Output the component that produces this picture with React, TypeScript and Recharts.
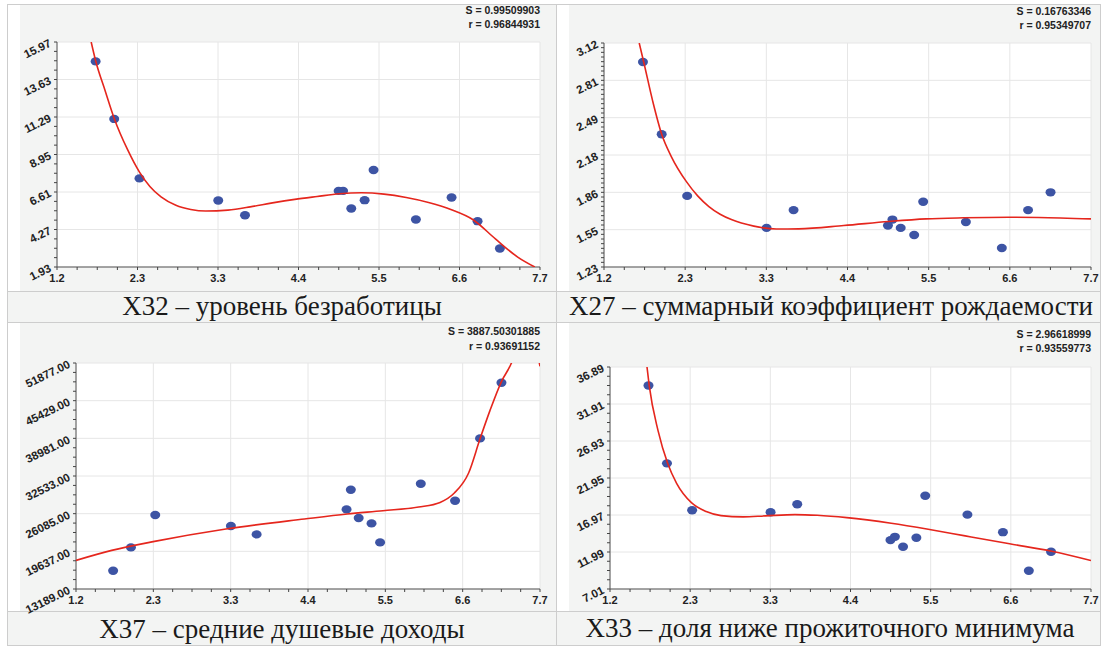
import React from "react";
import { ScatterChart, Scatter, XAxis, YAxis, CartesianGrid } from "recharts";

// regressor values (same for all four panels)
const REGION_X = [1.72, 1.97, 2.31, 3.37, 3.73, 4.99, 5.05, 5.16, 5.34, 5.46, 6.03, 6.51, 6.86, 7.16];
const X_TICK_LABELS = ["1.2", "2.3", "3.3", "4.4", "5.5", "6.6", "7.7"];

// X32 - unemployment
const X32_VALUES = [14.76, 11.17, 7.46, 6.08, 5.16, 6.68, 6.68, 5.58, 6.1, 7.98, 4.89, 6.27, 4.79, 3.08];
const X32_FIT_X = [1.66, 1.72, 1.85, 1.97, 2.15, 2.31, 2.45, 2.6, 2.8, 3.0, 3.2, 3.5, 3.8, 4.1, 4.4, 4.7, 5.0, 5.3, 5.6, 5.9, 6.2, 6.5, 6.8, 7.1, 7.4, 7.63];
const X32_FIT_Y = [15.97, 14.8, 12.9, 11.2, 9.25, 7.85, 6.95, 6.3, 5.78, 5.52, 5.42, 5.48, 5.68, 5.93, 6.15, 6.33, 6.5, 6.56, 6.48, 6.27, 5.96, 5.52, 4.88, 3.68, 2.55, 1.93];
const X32_TICKS = ["1.93", "4.27", "6.61", "8.95", "11.29", "13.63", "15.97"];

// X27 - fertility
const X27_VALUES = [2.96, 2.35, 1.83, 1.56, 1.71, 1.58, 1.63, 1.56, 1.5, 1.78, 1.61, 1.39, 1.71, 1.86];
const X27_FIT_X = [1.67, 1.73, 1.85, 1.97, 2.1, 2.3, 2.45, 2.6, 2.75, 2.9, 3.2, 3.5, 3.8, 4.4, 5.0, 5.5, 6.0, 6.6, 7.0, 7.7];
const X27_FIT_Y = [3.12, 2.96, 2.63, 2.35, 2.16, 1.95, 1.83, 1.74, 1.675, 1.63, 1.575, 1.55, 1.552, 1.58, 1.614, 1.636, 1.645, 1.65, 1.648, 1.636];
const X27_TICKS = ["1.23", "1.55", "1.86", "2.18", "2.49", "2.81", "3.12"];

// X37 - average income per capita
const X37_VALUES = [16322, 20311, 25858, 23975, 22537, 26817, 30189, 25344, 24420, 21167, 31216, 28306, 38972, 48508];
const X37_FIT_X = [1.2, 1.7, 2.3, 3.3, 4.4, 5.0, 5.5, 6.0, 6.3, 6.5, 6.7, 6.86, 7.0, 7.16, 7.3, 7.5, 7.7];
const X37_FIT_Y = [18085, 19797, 21338, 23461, 25173, 26029, 26594, 27227, 28015, 29624, 33049, 38900, 43765, 48700, 51877, 60000, 51300];
const X37_TICKS = ["13189.00", "19637.00", "26085.00", "32533.00", "38981.00", "45429.00", "51877.00"];

// X33 - share below subsistence minimum
const X33_VALUES = [34.39, 23.92, 17.61, 17.35, 18.42, 13.59, 14.03, 12.69, 13.9, 19.57, 17.02, 14.66, 9.47, 12.02];
const X33_FIT_X = [1.7, 1.73, 1.85, 1.98, 2.1, 2.3, 2.5, 2.7, 3.0, 3.3, 3.7, 4.0, 4.4, 5.0, 5.5, 6.0, 6.6, 7.17, 7.7];
const X33_FIT_Y = [36.89, 34.39, 28.3, 23.9, 21.24, 18.64, 17.43, 16.89, 16.72, 16.85, 17.02, 16.93, 16.62, 15.87, 15.06, 14.16, 13.09, 12.1, 10.85];
const X33_TICKS = ["7.01", "11.99", "16.97", "21.95", "26.93", "31.91", "36.89"];

const X_MIN = 1.2;
const X_MAX = 7.7;
const X_SUB = 4;
const AXIS_FONT = "'Liberation Sans', Arial, sans-serif";
const DOT_COLOR = "#3d54a4";
const FIT_COLOR = "#e5261d";

type Box = { x: number; y: number; w: number; h: number };
type Plot = { l: number; r: number; t: number; b: number };

interface PanelProps {
  values: number[];
  fitX: number[];
  fitY: number[];
  yLabels: string[];
  ySub: number;
  box: Box;
  plot: Plot;
}

const Dot = (p: any) => <ellipse cx={p.cx} cy={p.cy} rx={5} ry={4.2} fill={DOT_COLOR} />;
const NoDot = () => <g />;

function Panel({ values, fitX, fitY, yLabels, ySub, box, plot }: PanelProps) {
  const yMin = Number(yLabels[0]);
  const yMax = Number(yLabels[yLabels.length - 1]);
  const points = REGION_X.map((x, i) => ({ x, y: values[i] }));
  const fit = fitX.map((x, i) => ({ x, y: fitY[i] }));

  const xStep = (X_MAX - X_MIN) / 6;
  const xTicks = Array.from({ length: 6 * X_SUB + 1 }, (_, i) => X_MIN + (i * xStep) / X_SUB);
  const xMajors = X_TICK_LABELS.map((_, i) => X_MIN + i * xStep);
  const yStep = (yMax - yMin) / 6;
  const yTicks = Array.from({ length: 6 * ySub + 1 }, (_, i) => yMin + (i * yStep) / ySub);
  const yMajors = yLabels.map((_, i) => yMin + i * yStep);

  const XTick = (props: any) => {
    const { x, y, payload } = props;
    const i = Math.round((payload.value - X_MIN) / (xStep / X_SUB));
    const major = i % X_SUB === 0;
    return (
      <g>
        <line x1={x} x2={x} y1={y} y2={y + 3} stroke="#444" />
        {major && (
          <text x={x} y={y + 15} textAnchor="middle" fontSize={11} fontWeight="bold" fill="#222" fontFamily={AXIS_FONT}>
            {X_TICK_LABELS[i / X_SUB]}
          </text>
        )}
      </g>
    );
  };

  const YTick = (props: any) => {
    const { x, y, payload } = props;
    const i = Math.round((payload.value - yMin) / (yStep / ySub));
    const major = i % ySub === 0;
    const tx = x - 5;
    const ty = y + 4;
    return (
      <g>
        <line x1={x - 3} x2={x} y1={y} y2={y} stroke="#444" />
        {major && (
          <text x={tx} y={ty} textAnchor="end" fontSize={11.5} fontWeight="bold" fill="#222" fontFamily={AXIS_FONT}
            transform={`rotate(-26 ${tx} ${ty})`}>
            {yLabels[i / ySub]}
          </text>
        )}
      </g>
    );
  };

  const margin = {
    left: plot.l - box.x - 30,
    right: box.x + box.w - plot.r,
    top: plot.t - box.y,
    bottom: box.y + box.h - plot.b - 20,
  };

  return (
    <div style={{ position: "absolute", left: box.x, top: box.y }}>
      <ScatterChart width={box.w} height={box.h} margin={margin}>
        <CartesianGrid fill="#fff" stroke="#e6e6e6" horizontalValues={yMajors} verticalValues={xMajors} />
        <XAxis type="number" dataKey="x" domain={[X_MIN, X_MAX]} ticks={xTicks} interval={0} height={20}
          allowDataOverflow tick={XTick} tickLine={false} tickSize={0} tickMargin={0} axisLine={{ stroke: "#555" }} />
        <YAxis type="number" dataKey="y" domain={[yMin, yMax]} ticks={yTicks} interval={0} width={30}
          allowDataOverflow tick={YTick} tickLine={false} tickSize={0} tickMargin={0} axisLine={{ stroke: "#555" }} />
        <XAxis xAxisId="top" orientation="top" type="number" domain={[X_MIN, X_MAX]} height={0}
          tick={false} tickLine={false} axisLine={{ stroke: "#666" }} />
        <YAxis yAxisId="right" orientation="right" type="number" domain={[yMin, yMax]} width={0}
          tick={false} tickLine={false} axisLine={{ stroke: "#666" }} />
        <Scatter data={points} shape={Dot} isAnimationActive={false} />
        <Scatter data={fit} shape={NoDot} line={{ stroke: FIT_COLOR, strokeWidth: 1.6 }} lineJointType="monotoneX"
          isAnimationActive={false} />
      </ScatterChart>
    </div>
  );
}

const BORDER = "#cdcdcd";
const CELL_BG = "#f3f4f3";

export default function App() {
  const stat = (x: number, y: number, t: string) => (
    <text x={x} y={y} textAnchor="end" fontSize={10.5} fontWeight="bold" fill="#222" fontFamily={AXIS_FONT}>{t}</text>
  );
  const caption = (x: number, y: number, t: string) => (
    <text x={x} y={y} textAnchor="middle" fontSize={27} fill="#1a1a1a" fontFamily="'Liberation Serif', 'Times New Roman', serif">{t}</text>
  );
  return (
    <div style={{ position: "absolute", left: 0, top: 0, width: 1101, height: 648, background: "#fff" }}>
      <svg width={1101} height={648} style={{ position: "absolute", left: 0, top: 0 }}>
        <rect x={20} y={5} width={536} height={286} fill={CELL_BG} />
        <rect x={569} y={5} width={531} height={286} fill={CELL_BG} />
        <rect x={20} y={323} width={536} height={288} fill={CELL_BG} />
        <rect x={569} y={323} width={531} height={288} fill={CELL_BG} />
        <rect x={8} y={292} width={1092} height={30} fill={CELL_BG} />
        <rect x={8} y={612} width={1092} height={33} fill={CELL_BG} />
        {[4.5, 291.5, 322.5, 611.5, 645.5].map((y) => (
          <line key={y} x1={7} x2={1101} y1={y} y2={y} stroke={BORDER} />
        ))}
        {[7.5, 556.5, 1100.5].map((x) => (
          <line key={x} x1={x} x2={x} y1={4} y2={646} stroke={BORDER} />
        ))}
        {stat(540, 14, "S = 0.99509903")}
        {stat(540, 28, "r = 0.96844931")}
        {stat(1091, 15, "S = 0.16763346")}
        {stat(1091, 29, "r = 0.95349707")}
        {stat(540, 335, "S = 3887.50301885")}
        {stat(540, 349.5, "r = 0.93691152")}
        {stat(1091, 338, "S = 2.96618999")}
        {stat(1091, 352, "r = 0.93559773")}
        {caption(282, 315, "X32 – уровень безработицы")}
        {caption(831, 315, "X27 – суммарный коэффициент рождаемости")}
        {caption(282, 638, "X37 – средние душевые доходы")}
        {caption(830, 637, "X33 – доля ниже прожиточного минимума")}
      </svg>
      <Panel values={X32_VALUES} fitX={X32_FIT_X} fitY={X32_FIT_Y} yLabels={X32_TICKS} ySub={4}
        box={{ x: 9, y: 5, w: 546, h: 286 }} plot={{ l: 57, r: 540, t: 42, b: 267 }} />
      <Panel values={X27_VALUES} fitX={X27_FIT_X} fitY={X27_FIT_Y} yLabels={X27_TICKS} ySub={8}
        box={{ x: 558, y: 5, w: 542, h: 286 }} plot={{ l: 604, r: 1091, t: 43, b: 267 }} />
      <Panel values={X37_VALUES} fitX={X37_FIT_X} fitY={X37_FIT_Y} yLabels={X37_TICKS} ySub={4}
        box={{ x: 9, y: 323, w: 546, h: 296 }} plot={{ l: 76, r: 540, t: 363, b: 589 }} />
      <Panel values={X33_VALUES} fitX={X33_FIT_X} fitY={X33_FIT_Y} yLabels={X33_TICKS} ySub={4}
        box={{ x: 558, y: 323, w: 542, h: 296 }} plot={{ l: 610, r: 1091, t: 367, b: 589 }} />
    </div>
  );
}
